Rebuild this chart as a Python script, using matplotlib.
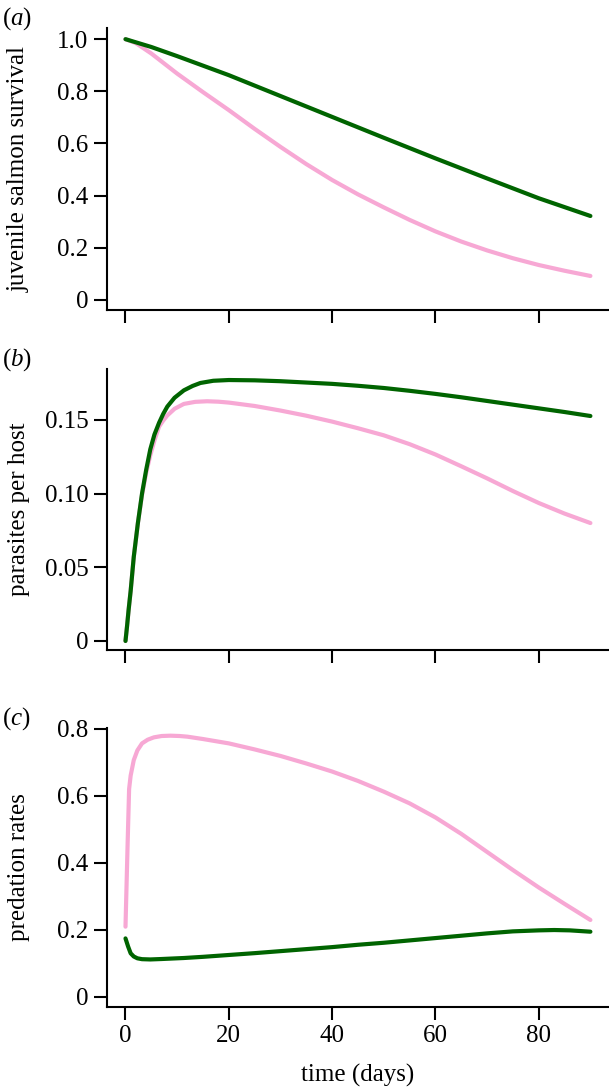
import numpy as np
import matplotlib
matplotlib.use('Agg')
import matplotlib.pyplot as plt
from matplotlib import font_manager as fm

# make sure a Times-like serif is registered
for f in fm.findSystemFonts():
    if 'Liberation' in f and 'Serif' in f:
        fm.fontManager.addfont(f)
names = sorted(set(x.name for x in fm.fontManager.ttflist))
serif = next((n for n in ['Liberation Serif', 'Nimbus Roman', 'Times New Roman', 'DejaVu Serif'] if n in names), 'DejaVu Serif')

plt.rcParams['font.family'] = [serif, 'DejaVu Serif']
plt.rcParams['mathtext.fontset'] = 'custom'
plt.rcParams['mathtext.it'] = serif + ':italic'
plt.rcParams['mathtext.rm'] = serif

green = '#006400'
pink = '#f7a8d4'

# (a) juvenile salmon survival
t_surv_g = [0, 5, 10, 20, 30, 40, 50, 60, 70, 80, 90]
surv_g = [1.0, 0.970, 0.935, 0.862, 0.782, 0.702, 0.622, 0.543, 0.466, 0.390, 0.322]
t_surv_p = [0, 2, 5, 10, 15, 20, 25, 30, 35, 40, 45, 50, 55, 60, 65, 70, 75, 80, 85, 90]
surv_p = [1.0, 0.985, 0.945, 0.868, 0.797, 0.728, 0.656, 0.587, 0.521, 0.460, 0.405, 0.355,
          0.307, 0.263, 0.224, 0.190, 0.160, 0.134, 0.112, 0.092]

# (b) parasites per host
t_par_g = [0, 0.3, 0.6, 1.0, 1.6, 2.4, 3.2, 4.0, 4.8, 5.6, 6.5, 7.3, 8.1, 9.5, 11.3, 13, 14.5,
           17, 20, 25, 30, 35, 40, 45, 50, 55, 60, 65, 70, 75, 80, 85, 90]
par_g = [0, 0.010, 0.021, 0.034, 0.057, 0.080, 0.100, 0.116, 0.130, 0.140, 0.148, 0.154, 0.159,
         0.165, 0.170, 0.173, 0.175, 0.1765, 0.177, 0.1768, 0.1762, 0.1753, 0.1744, 0.1731,
         0.1716, 0.1697, 0.1676, 0.1653, 0.1628, 0.1603, 0.1578, 0.1553, 0.1526]
t_par_p = [0, 0.3, 0.6, 1.0, 1.6, 2.4, 3.2, 4.0, 4.8, 5.6, 6.5, 7.3, 8.1, 9.5, 11.3, 13.5,
           15.8, 18, 20, 25, 30, 35, 40, 45, 50, 55, 60, 65, 70, 75, 80, 85, 90]
par_p = [0, 0.010, 0.021, 0.034, 0.057, 0.080, 0.099, 0.114, 0.126, 0.136, 0.1454, 0.1495,
         0.153, 0.1575, 0.1608, 0.1622, 0.1626, 0.1623, 0.1617, 0.1594, 0.1563, 0.1528, 0.1488,
         0.1443, 0.1395, 0.1335, 0.1265, 0.1185, 0.1103, 0.1017, 0.0936, 0.0864, 0.0800]

# (c) predation rates
t_pred_p = [0, 0.4, 0.7, 1.0, 1.6, 2.3, 3.2, 4.3, 5.5, 7, 8.7, 10.5, 12, 15, 20, 25, 30, 35,
            40, 45, 50, 55, 60, 65, 70, 75, 80, 85, 90]
pred_p = [0.209, 0.45, 0.620, 0.660, 0.706, 0.735, 0.756, 0.767, 0.774, 0.778, 0.779, 0.778,
          0.776, 0.769, 0.756, 0.738, 0.7185, 0.696, 0.672, 0.644, 0.612, 0.577, 0.535, 0.486,
          0.432, 0.378, 0.326, 0.277, 0.229]
t_pred_g = [0, 0.5, 1.0, 1.6, 2.3, 3.2, 4.8, 7, 11.3, 15, 20, 25, 30, 35, 40, 45, 50, 55, 60,
            65, 70, 75, 80, 83, 86, 90]
pred_g = [0.174, 0.150, 0.1295, 0.120, 0.1146, 0.112, 0.1112, 0.1125, 0.1155, 0.119, 0.1245,
          0.130, 0.136, 0.142, 0.148, 0.155, 0.161, 0.168, 0.175, 0.182, 0.189, 0.195, 0.198,
          0.199, 0.198, 0.194]

panels = [
    ('a', 'juvenile salmon survival', (t_surv_g, surv_g), (t_surv_p, surv_p),
     [0, 0.2, 0.4, 0.6, 0.8, 1.0], ['0', '0.2', '0.4', '0.6', '0.8', '1.0'], (-0.0384, 1.043),
     [0.1757, 0.7151, 0.8243, 0.2592]),
    ('b', 'parasites per host', (t_par_g, par_g), (t_par_p, par_p),
     [0, 0.05, 0.10, 0.15], ['0', '0.05', '0.10', '0.15'], (-0.0061, 0.1843),
     [0.1757, 0.4026, 0.8243, 0.2580]),
    ('c', 'predation rates', (t_pred_g, pred_g), (t_pred_p, pred_p),
     [0, 0.2, 0.4, 0.6, 0.8], ['0', '0.2', '0.4', '0.6', '0.8'], (-0.0299, 0.801),
     [0.1757, 0.0747, 0.8243, 0.2559]),
]

xticks = [0, 20, 40, 60, 80]
fs = 18

fig = plt.figure(figsize=(6.09, 10.88), dpi=100)
for i, (tag, ylab, gser, pser, yt, ytl, ylim, pos) in enumerate(panels):
    ax = fig.add_axes(pos)
    ax.plot(pser[0], pser[1], color=pink, lw=3.0, solid_capstyle='round', clip_on=False)
    ax.plot(gser[0], gser[1], color=green, lw=3.0, solid_capstyle='round', clip_on=False)
    ax.set_xlim(-3.58, 93.6)
    ax.set_ylim(*ylim)
    ax.set_yticks(yt)
    ax.set_yticklabels(ytl)
    ax.set_xticks(xticks)
    for s in ['top', 'right']:
        ax.spines[s].set_visible(False)
    for s in ['left', 'bottom']:
        ax.spines[s].set_linewidth(1.5)
    ax.tick_params(direction='out', length=9.5, width=1.5, labelsize=fs, pad=4)
    ax.set_ylabel(ylab, fontsize=fs)
    ax.yaxis.set_label_coords(-0.154, 0.5)
    if i < 2:
        ax.set_xticklabels([])
    else:
        ax.set_xlabel('time (days)', fontsize=fs, labelpad=12)
    fig.text(0.003, pos[1] + pos[3] + 0.0085, '(' + r'$\mathit{' + tag + '}$' + ')',
             fontsize=fs, ha='left', va='center')

fig.savefig('out.png', dpi=100)
